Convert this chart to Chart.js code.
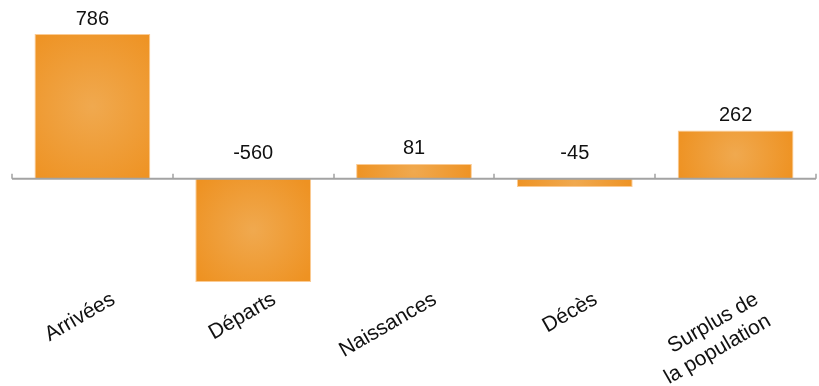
<!DOCTYPE html>
<html>
<head>
<meta charset="utf-8">
<script src="https://cdn.jsdelivr.net/npm/chart.js@4"></script>
<style>
  html, body { margin: 0; padding: 0; background: #fff; }
  #wrap { width: 819px; height: 386px; }
</style>
</head>
<body>
<div id="wrap"><canvas id="graphSolde"></canvas></div>
<script>
// Données
const categories = ['Arrivées', 'Départs', 'Naissances', 'Décès', ['Surplus de', 'la population']];
const valeurs = [786, -560, 81, -45, 262];

// dégradé radial orange pour chaque barre
function remplissage(context) {
  const chart = context.chart;
  const { ctx, chartArea, scales } = chart;
  if (!chartArea || context.type !== 'data') return '#ee9427';
  const v = valeurs[context.dataIndex];
  const cx = scales.x.getPixelForValue(context.dataIndex);
  const y0 = scales.y.getPixelForValue(0);
  const y1 = scales.y.getPixelForValue(v);
  const cy = (y0 + y1) / 2;
  const r = Math.max(60, Math.abs(y1 - y0) / 2 + 20);
  const g = ctx.createRadialGradient(cx, cy, 0, cx, cy, r);
  g.addColorStop(0, '#f0a94f');
  g.addColorStop(1, '#ee9222');
  return g;
}

// ligne du zéro, graduations et valeurs
const decorations = {
  id: 'decorations',
  afterDatasetsDraw(chart) {
    const { ctx, scales } = chart;
    const x = scales.x, y = scales.y;
    const y0 = y.getPixelForValue(0);
    ctx.save();
    ctx.strokeStyle = '#a3a3a3';
    ctx.lineWidth = 2;
    ctx.beginPath();
    ctx.moveTo(x.left, y0);
    ctx.lineTo(x.right, y0);
    ctx.stroke();
    ctx.lineWidth = 1.5;
    ctx.beginPath();
    for (let i = 0; i <= categories.length; i++) {
      const px = Math.round(x.getPixelForValue(i - 0.5));
      ctx.moveTo(px, y0);
      ctx.lineTo(px, y0 - 5);
    }
    ctx.stroke();

    ctx.fillStyle = '#111';
    ctx.font = '20px "Liberation Sans", Arial, sans-serif';
    ctx.textAlign = 'center';
    ctx.textBaseline = 'bottom';
    valeurs.forEach((v, i) => {
      const px = x.getPixelForValue(i);
      const py = v >= 0 ? y.getPixelForValue(v) - 5 : y0 - 15;
      ctx.fillText(String(v), px, py);
    });
    ctx.restore();
  }
};

const chartSolde = new Chart(document.getElementById('graphSolde').getContext('2d'), {
  type: 'bar',
  data: {
    labels: categories,
    datasets: [{
      data: valeurs,
      backgroundColor: remplissage,
      borderColor: 'rgba(250, 190, 120, 0.8)',
      borderWidth: 1,
      barPercentage: 0.72,
      categoryPercentage: 1
    }]
  },
  options: {
    responsive: true,
    maintainAspectRatio: false,
    animation: false,
    layout: { padding: { top: 34, left: 12, right: 3, bottom: 0 } },
    scales: {
      x: {
        grid: { display: false, drawTicks: false },
        border: { display: false },
        afterFit: (scale) => { scale.height = 104; },
        ticks: {
          autoSkip: false,
          minRotation: 30,
          maxRotation: 30,
          padding: 5,
          labelOffset: 21,
          color: '#111',
          font: { size: 21, family: '"Liberation Sans", Arial, sans-serif' }
        }
      },
      y: {
        display: false,
        min: -560,
        max: 786
      }
    },
    plugins: {
      legend: { display: false },
      tooltip: { enabled: false }
    }
  },
  plugins: [decorations]
});
</script>
</body>
</html>
